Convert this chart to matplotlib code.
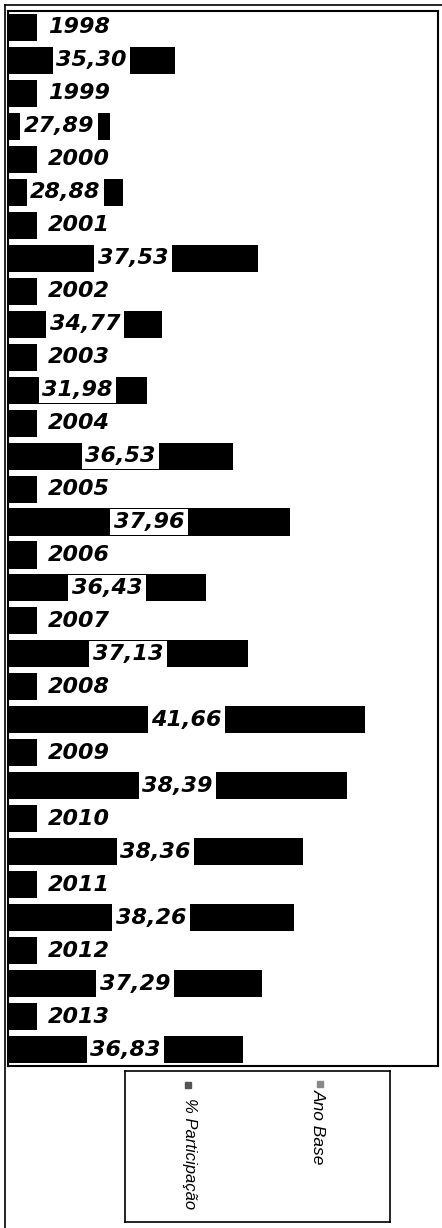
import matplotlib.pyplot as plt
from matplotlib.lines import Line2D

# anos e % de participacao
anos = [1998, 1999, 2000, 2001, 2002, 2003, 2004, 2005,
        2006, 2007, 2008, 2009, 2010, 2011, 2012, 2013]
participacao = [35.30, 27.89, 28.88, 37.53, 34.77, 31.98, 36.53, 37.96,
                36.43, 37.13, 41.66, 38.39, 38.36, 38.26, 37.29, 36.83]
# comprimento das barras como aparece no grafico original (escala livre)
barra_ano = [29] * 16
barra_part = [167, 102, 115, 250, 154, 139, 225, 282,
              198, 240, 357, 339, 295, 286, 254, 235]

W, H = 442, 1228
fig = plt.figure(figsize=(W / 100, H / 100), dpi=100)
ax = fig.add_axes([8 / W, 1 - 1066 / H, 430 / W, (1066 - 11) / H])

fonte = dict(family=["DejaVu Sans"], weight="bold", style="italic", size=16)

pos_ano = [2 * i for i in range(len(anos))]
pos_part = [2 * i + 1 for i in range(len(anos))]

ax.barh(pos_ano, barra_ano, height=0.82, color="black", zorder=2)
ax.barh(pos_part, barra_part, height=0.82, color="black", zorder=2)

for y, w, a in zip(pos_ano, barra_ano, anos):
    ax.annotate(str(a), (w, y), xytext=(8, 0), textcoords="offset points",
                ha="left", va="center", zorder=3, **fonte)

for y, w, v in zip(pos_part, barra_part, participacao):
    ax.text(w / 2, y, f"{v:.2f}".replace(".", ","), ha="center", va="center",
            zorder=3, bbox=dict(boxstyle="square,pad=0.15", fc="white", ec="none"),
            **fonte)

ax.set_xlim(0, 430)
ax.set_ylim(31.5, -0.5)
ax.set_xticks([])
ax.set_yticks([])
for s in ax.spines.values():
    s.set_linewidth(1.5)

# moldura externa
fig.add_artist(Line2D([5 / W, 5 / W], [0, 1 - 5 / H], color="black", lw=1.2))
fig.add_artist(Line2D([5 / W, 1], [1 - 5 / H, 1 - 5 / H], color="black", lw=1.2))

# legenda (girada)
lg = fig.add_axes([125 / W, 1 - 1222 / H, 265 / W, 151 / H])
lg.set_xticks([])
lg.set_yticks([])
for s in lg.spines.values():
    s.set_linewidth(1.2)
lg.set_xlim(125, 390)
lg.set_ylim(1222, 1071)
lg.plot([188], [1085], marker="s", ms=4, color="#555555")
lg.plot([320], [1084], marker="s", ms=4, color="#888888")
lg.text(190, 1098, "% Participação", rotation=-90, ha="center", va="top",
        fontsize=12, style="italic", family=["Liberation Sans"])
lg.text(318, 1089, "Ano Base", rotation=-90, ha="center", va="top",
        fontsize=12.5, style="italic", family=["Liberation Sans"])

fig.savefig("out.png", dpi=100)
